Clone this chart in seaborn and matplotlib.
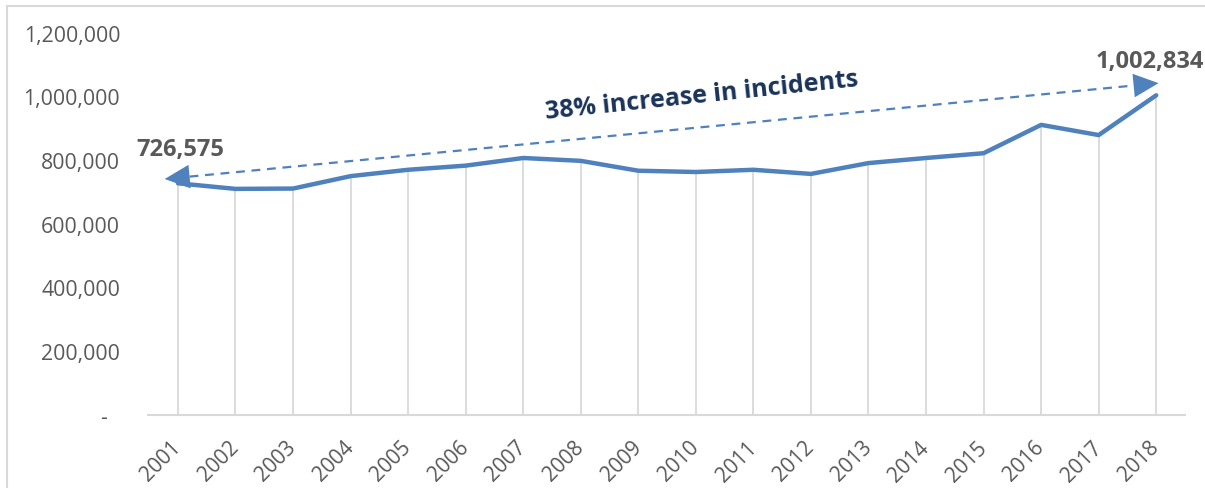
import matplotlib
matplotlib.use("Agg")
import matplotlib.pyplot as plt
import seaborn as sns
import pandas as pd
from matplotlib.patches import Rectangle
from matplotlib.ticker import FuncFormatter

years = list(range(2001, 2019))
incidents = [726575, 709000, 710000, 749000, 769000, 782000, 806000, 797000,
             766000, 762000, 769000, 756000, 790000, 806000, 821000, 910000,
             878000, 1002834]
y_ticks = [0, 200000, 400000, 600000, 800000, 1000000, 1200000]
annotation_text = "38% increase in incidents"
start_label = "726,575"
end_label = "1,002,834"

sns.set_theme(style="white")
plt.rcParams['font.family'] = ['Open Sans', 'DejaVu Sans']

df = pd.DataFrame({"year": years, "incidents": incidents})

fig = plt.figure(figsize=(12.05, 4.89), dpi=100)
ax = fig.add_axes([148/1205, 1 - 415.7/489, (1185-148)/1205, (415.7-33.5)/489])

line_color = "#4F81BD"
grid_color = "#D9D9D9"
text_gray = "#595959"

# drop lines
ax.vlines(df["year"], 0, df["incidents"], color=grid_color, lw=1.3, zorder=1)
sns.lineplot(data=df, x="year", y="incidents", ax=ax, color=line_color, lw=3.2,
             zorder=3, legend=False)

ax.set_xlim(years[0] - 0.52, years[-1] + 0.5)
ax.set_ylim(y_ticks[0], y_ticks[-1])
ax.set_yticks(y_ticks)
ax.yaxis.set_major_formatter(FuncFormatter(lambda v, p: "-\u2007" if v == 0 else f"{int(v):,}"))
ax.set_xticks(years)
ax.set_xticklabels([str(y) for y in years], rotation=45, ha="right",
                   rotation_mode="anchor", va="center")
ax.tick_params(axis="y", length=0, pad=20, labelsize=15.3, labelcolor=text_gray)
ax.tick_params(axis="x", length=0, pad=21, labelsize=15, labelcolor=text_gray)
ax.set_xlabel("")
ax.set_ylabel("")
for s in ["top", "right", "left"]:
    ax.spines[s].set_visible(False)
ax.spines["bottom"].set_color(grid_color)
ax.spines["bottom"].set_linewidth(1.5)

# dashed arrow
x0, y0 = years[0] - 0.23, 740000
x1, y1 = years[-1] + 0.04, 1041000
fx = 0.025
ax.plot([x0 + (x1 - x0) * fx, x1 - (x1 - x0) * fx],
        [y0 + (y1 - y0) * fx, y1 - (y1 - y0) * fx],
        ls=(0, (4, 3)), color=line_color, lw=1.6, zorder=4)
head = dict(arrowstyle="-|>,head_length=18,head_width=8.5", color=line_color,
            lw=0, mutation_scale=1, shrinkA=0, shrinkB=0)
ax.annotate("", xy=(x0, y0), xytext=(x0 + (x1 - x0) * 0.03, y0 + (y1 - y0) * 0.03),
            arrowprops=head, zorder=5)
ax.annotate("", xy=(x1, y1), xytext=(x1 - (x1 - x0) * 0.03, y1 - (y1 - y0) * 0.03),
            arrowprops=head, zorder=5)

ax.text(2010.1, 1005000, annotation_text, rotation=6, rotation_mode="anchor",
        ha="center", va="center", fontsize=18, fontweight="bold", color="#1A3358")
ax.text(2001.05, 834000, start_label, ha="center", va="center", fontsize=17,
        fontweight="bold", color=text_gray, clip_on=False)
ax.text(2016.95, 1110000, end_label, ha="left", va="center", fontsize=17,
        fontweight="bold", color=text_gray, clip_on=False)

# outer chart border
fig.patches.append(Rectangle((7/1205, -0.2), 1.2, 1.2 - 7/489, transform=fig.transFigure,
                             fill=False, ec=grid_color, lw=1.5))

fig.savefig("out.png", dpi=100)
